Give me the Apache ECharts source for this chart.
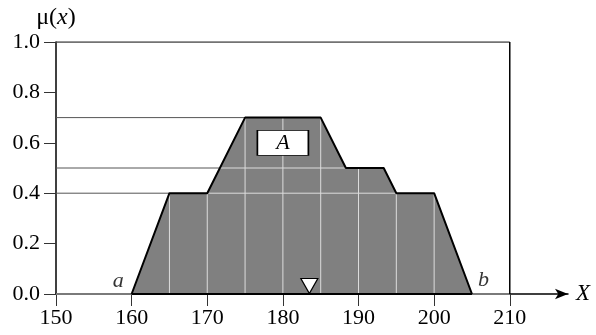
<!DOCTYPE html>
<html>
<head>
<meta charset="utf-8">
<script src="https://cdn.jsdelivr.net/npm/echarts@6/dist/echarts.min.js"></script>
<style>
	html, body { margin: 0; padding: 0; background: #fff; }
	#chart { width: 596px; height: 335px; }
</style>
</head>
<body>
<div id="chart"></div>
<script>
// fuzzy set A: corner points of the membership function
var shapeX = [160, 165, 170, 175, 185, 188.33, 193.33, 195, 200, 205];
var shapeY = [0, 0.4, 0.4, 0.7, 0.7, 0.5, 0.5, 0.4, 0.4, 0];
// light grid inside the set
var gridX = [165, 170, 175, 180, 185, 190, 195, 200];
var levels = [0.4, 0.5, 0.7];
// axis ticks
var xTicks = [150, 160, 170, 180, 190, 200, 210];
var yTicks = [0, 0.2, 0.4, 0.6, 0.8, 1.0];
var markerX = 183.5;
var boxPos = [180, 0.6];
var pointA = [160, 0];
var pointB = [205, 0];

var FONT = "'Liberation Serif', 'Times New Roman', Times, serif";

function valueAt(x) {
	for (var i = 0; i < shapeX.length - 1; i++) {
		if (x >= shapeX[i] && x <= shapeX[i + 1]) {
			var t = (x - shapeX[i]) / (shapeX[i + 1] - shapeX[i]);
			return shapeY[i] + t * (shapeY[i + 1] - shapeY[i]);
		}
	}
	return 0;
}

function crossLeft(level) {
	for (var i = 0; i < shapeX.length - 1; i++) {
		if (shapeY[i] < level && shapeY[i + 1] >= level) {
			var t = (level - shapeY[i]) / (shapeY[i + 1] - shapeY[i]);
			return shapeX[i] + t * (shapeX[i + 1] - shapeX[i]);
		}
	}
	return shapeX[0];
}

function crossRight(level) {
	for (var i = shapeX.length - 2; i >= 0; i--) {
		if (shapeY[i] >= level && shapeY[i + 1] < level) {
			var t = (shapeY[i] - level) / (shapeY[i] - shapeY[i + 1]);
			return shapeX[i] + t * (shapeX[i + 1] - shapeX[i]);
		}
	}
	return shapeX[shapeX.length - 1];
}

function seg(p1, p2, color, width, z) {
	return {
		type: 'line',
		data: [p1, p2],
		symbol: 'none',
		silent: true,
		z: z,
		lineStyle: { color: color, width: width }
	};
}

var shapeData = [];
for (var i = 0; i < shapeX.length; i++) {
	shapeData.push([shapeX[i], shapeY[i]]);
}

var xMin = xTicks[0];
var xEnd = xTicks[xTicks.length - 1];
var yMax = yTicks[yTicks.length - 1];
var topLevel = Math.max.apply(null, shapeY);

var series = [];

// grey part of the x axis inside the frame
series.push(seg([xMin, 0], [xEnd, 0], '#7a7a7a', 2, 1));

// filled area
series.push({
	type: 'line',
	data: shapeData,
	symbol: 'none',
	silent: true,
	z: 1,
	lineStyle: { width: 0 },
	areaStyle: { color: '#808080', opacity: 1 }
});

// light verticals inside the set
gridX.forEach(function(x) {
	series.push(seg([x, 0], [x, valueAt(x)], '#dcdcdc', 1, 2));
});

// levels: dark lines from the axis, light lines inside
levels.forEach(function(lv) {
	var l = crossLeft(lv);
	series.push(seg([xMin, lv], [l, lv], '#555', 1, 2));
	if (lv < topLevel) {
		series.push(seg([l, lv], [crossRight(lv), lv], '#dcdcdc', 1, 2));
	}
});

// outline
series.push({
	type: 'line',
	data: shapeData,
	symbol: 'none',
	silent: true,
	z: 3,
	lineStyle: { color: '#000', width: 2 }
});
series.push(seg([shapeX[0], 0], [shapeX[shapeX.length - 1], 0], '#000', 2, 3));

// frame top and right
series.push(seg([xMin, yMax], [xEnd, yMax], '#444', 1.5, 3));
series.push(seg([xEnd, 0], [xEnd, yMax], '#000', 1.5, 3));

// marker triangle
series.push({
	type: 'scatter',
	data: [[markerX, 0]],
	symbol: 'triangle',
	symbolRotate: 180,
	symbolSize: [17, 15],
	symbolOffset: [0, -8],
	silent: true,
	z: 5,
	itemStyle: { color: '#fff', opacity: 1, borderColor: '#000', borderWidth: 1.2 }
});

// label box A
series.push({
	type: 'scatter',
	data: [boxPos],
	symbol: 'rect',
	symbolSize: [51, 25],
	silent: true,
	z: 5,
	itemStyle: { color: '#fff', opacity: 1, borderColor: '#000', borderWidth: 1.2 },
	label: {
		show: true,
		position: 'inside',
		formatter: 'A',
		color: '#000',
		fontFamily: FONT,
		fontStyle: 'italic',
		fontSize: 22
	}
});

// a, b
series.push({
	type: 'scatter',
	data: [pointA],
	symbolSize: 0,
	silent: true,
	z: 5,
	label: {
		show: true, position: 'left', distance: 8, offset: [0, -13],
		formatter: 'a', color: '#000', fontFamily: FONT, fontStyle: 'italic', fontSize: 22
	}
});
series.push({
	type: 'scatter',
	data: [pointB],
	symbolSize: 0,
	silent: true,
	z: 5,
	label: {
		show: true, position: 'right', distance: 6, offset: [0, -14],
		formatter: 'b', color: '#000', fontFamily: FONT, fontStyle: 'italic', fontSize: 22
	}
});

var chart = echarts.init(document.getElementById('chart'), null, { renderer: 'canvas' });
chart.setOption({
	animation: false,
	backgroundColor: '#fff',
	textStyle: { fontFamily: FONT },
	grid: { left: 56, right: 28, top: 42, bottom: 41 },
	xAxis: {
		type: 'value',
		min: xMin,
		max: 217.7,
		interval: 10,
		name: 'X',
		nameLocation: 'end',
		nameGap: 8,
		nameTextStyle: { color: '#000', fontFamily: FONT, fontStyle: 'italic', fontSize: 23 },
		axisLine: {
			lineStyle: { color: '#000', width: 1.5 },
			symbol: ['none', 'arrow'],
			symbolSize: [8, 13]
		},
		axisTick: { show: true, length: 12, customValues: xTicks, lineStyle: { color: '#333' } },
		axisLabel: {
			customValues: xTicks,
			margin: 13,
			color: '#000',
			fontFamily: FONT,
			fontSize: 22
		},
		splitLine: { show: false }
	},
	yAxis: {
		type: 'value',
		min: 0,
		max: yMax,
		interval: 0.2,
		name: '{a|μ(}{i|x}{a|)}',
		nameLocation: 'end',
		nameGap: 12,
		nameTextStyle: {
			align: 'center',
			rich: {
				a: { fontFamily: FONT, fontSize: 24, color: '#000' },
				i: { fontFamily: FONT, fontSize: 24, fontStyle: 'italic', color: '#000' }
			}
		},
		axisLine: { show: true, lineStyle: { color: '#000', width: 1.5 } },
		axisTick: { show: true, length: 12, lineStyle: { color: '#333' } },
		axisLabel: {
			margin: 16,
			color: '#000',
			fontFamily: FONT,
			fontSize: 22,
			formatter: function(v) { return v.toFixed(1); }
		},
		splitLine: { show: false }
	},
	series: series
});
</script>
</body>
</html>
